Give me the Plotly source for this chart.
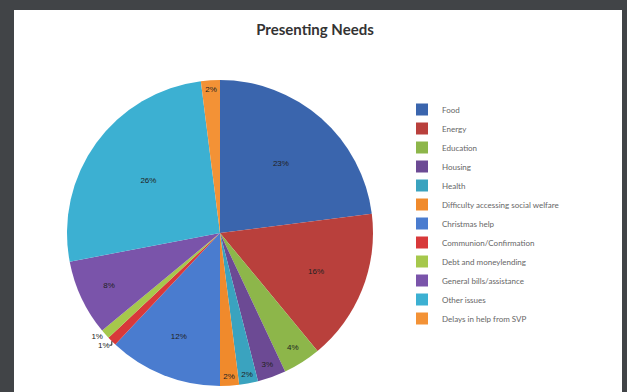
import plotly.graph_objects as go

categories = ["Food", "Energy", "Education", "Housing", "Health",
              "Difficulty accessing social welfare", "Christmas help",
              "Communion/Confirmation", "Debt and moneylending",
              "General bills/assistance", "Other issues", "Delays in help from SVP"]
values = [23, 16, 4, 3, 2, 2, 12, 1, 1, 8, 26, 2]
colors = ["#3a65ad", "#b9403c", "#8db64a", "#6c4a94", "#3aa3bf", "#f08a2c",
          "#4a7ccf", "#d8393a", "#a6c84c", "#7a54aa", "#3cb0d2", "#f39236"]

W, H = 627, 392
cx, cy, r = 220, 233, 153

fig = go.Figure()
fig.add_trace(go.Pie(
    labels=categories, values=values, sort=False, direction="clockwise", rotation=0,
    marker=dict(colors=colors, line=dict(width=0)),
    texttemplate="%{percent:.0%}", textposition="auto",
    insidetextorientation="horizontal",
    textfont=dict(family="Liberation Sans", size=8, color="#222222"),
    domain=dict(x=[(cx - r) / W, (cx + r) / W], y=[(H - cy - r) / H, (H - cy + r) / H]),
    hoverinfo="label+percent",
))

fig.update_layout(
    width=W, height=H,
    margin=dict(l=0, r=0, t=0, b=0),
    paper_bgcolor="#414447",
    shapes=[dict(type="rect", xref="paper", yref="paper", x0=14 / W, x1=622 / W,
                 y0=0, y1=(H - 10) / H, fillcolor="white", line=dict(width=0), layer="below")],
    title=dict(text="<b>Presenting Needs</b>", x=315 / W, xanchor="center",
               y=1 - 30 / H, yanchor="middle",
               font=dict(family="Lato", size=15, color="#333333")),
    legend=dict(x=402 / W, xanchor="left", y=1 - 95 / H, yanchor="top",
                font=dict(family="Lato", size=8, color="#666666"),
                bgcolor="rgba(0,0,0,0)"),
    uniformtext=dict(minsize=8, mode="show"),
)

fig.write_html("out.html", config={"displayModeBar": False},
               post_script="document.body.style.margin='0';document.body.style.background='#414447';")
